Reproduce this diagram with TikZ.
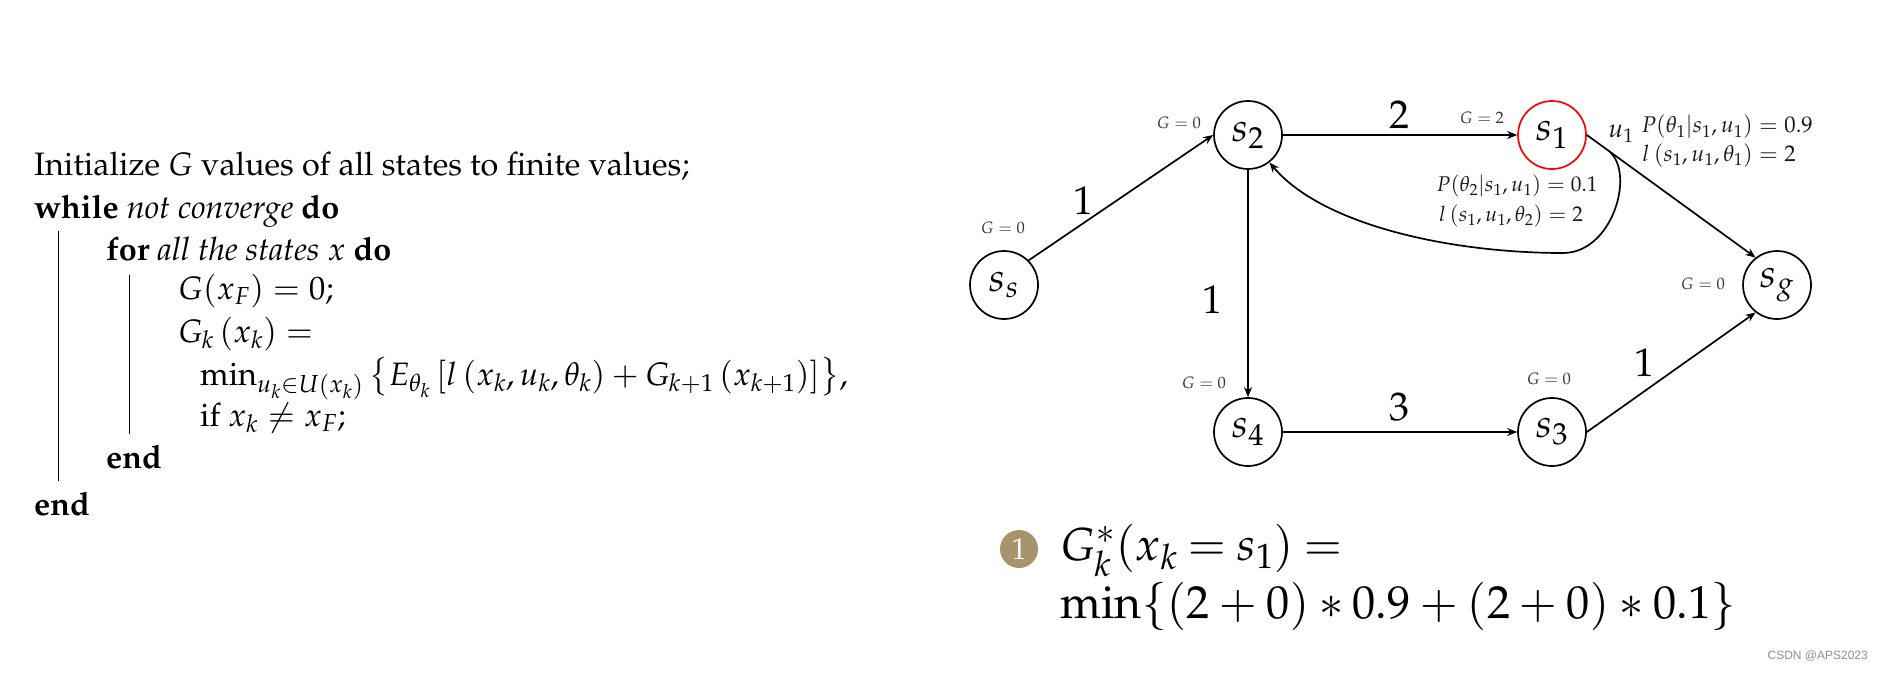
\documentclass[tikz,border=0pt]{standalone}
\usepackage[no-math]{fontspec}
\newfontfamily\wmfont{Liberation Sans}
\usepackage[T1]{fontenc}
\usepackage{amsmath,amssymb}
\usepackage{mathpazo}
\usepackage{tikz}
\usetikzlibrary{arrows.meta}
\definecolor{badge}{HTML}{A8946A}
\tikzset{
  state/.style={circle,draw=black,fill=white,minimum size=68pt,inner sep=0pt,line width=1.7pt,font=\fontsize{40}{44}\selectfont},
  redstate/.style={state,draw=red},
  edge/.style={-{Stealth[length=10pt,width=8pt]},line width=1.7pt},
  gval/.style={font=\fontsize{16.5}{18}\selectfont,text=black!80,inner sep=0pt},
  weight/.style={font=\fontsize{40}{44}\selectfont,inner sep=0pt},
  prob/.style={font=\fontsize{21.3}{25}\selectfont,text=black!90,inner sep=0pt},
  probbig/.style={prob,font=\fontsize{22.7}{27}\selectfont},
  algtext/.style={anchor=base west,inner sep=0pt,font=\fontsize{32.4}{36}\selectfont},
  bigtext/.style={anchor=base west,inner sep=0pt,font=\fontsize{46.3}{50}\selectfont},
  algbar/.style={line width=1pt}
}
\begin{document}
\begin{tikzpicture}[x=1pt,y=-1pt]
  \useasboundingbox (0,0) rectangle (1878,672);
  % algorithm
  \node[algtext] (init) at (34,175) {Initialize $G$ values of all states to finite values;};
  \node[algtext] (while) at (34,218) {\textbf{while} \textit{not converge} \textbf{do}};
  \node[algtext] (for) at (106,260) {\textbf{for} \textit{all the states $x$} \textbf{do}};
  \node[algtext] (gf) at (178,299) {$G(x_F)=0$;};
  \node[algtext] (gk) at (178,342) {$G_k\left(x_k\right)=$};
  \node[algtext] (gmin) at (200,385) {$\min_{u_k\in U\left(x_k\right)}\left\{E_{\theta_k}\left[l\left(x_k,u_k,\theta_k\right)+G_{k+1}\left(x_{k+1}\right)\right]\right\}$,};
  \node[algtext] (gif) at (200,426) {if $x_k\neq x_F$;};
  \node[algtext] (endfor) at (106,468) {\textbf{end}};
  \node[algtext] (endwhile) at (34,515) {\textbf{end}};
  \coordinate (outa) at (58,231);
  \coordinate (outb) at (58,481);
  \coordinate (ina) at (129,275);
  \coordinate (inb) at (129,434);
  \draw[algbar] (outa) -- (outb);
  \draw[algbar] (ina) -- (inb);
  % graph
  \node[state] (ss) at (1004,285) {$s_s$};
  \node[state] (s2) at (1248,135) {$s_2$};
  \node[redstate] (s1) at (1552,135) {$s_1$};
  \node[state] (sg) at (1777,285) {$s_g$};
  \node[state] (s4) at (1248,432) {$s_4$};
  \node[state] (s3) at (1552,432) {$s_3$};
  \draw[edge] (ss.north east) -- (s2.west);
  \draw[edge] (s2) -- (s1);
  \draw[edge] (s2) -- (s4);
  \draw[edge] (s4) -- (s3);
  \draw[edge] (s3.east) -- (sg.232);
  \draw[edge] (s1.east) -- (sg.128);
  \coordinate (u1) at (1610,152);
  \coordinate (bend) at (1563,253);
  \draw[edge] (u1) .. controls (1635,175) and (1612,253) .. (bend) .. controls (1450,253) and (1322,225) .. (s2.308);
  \node[gval] (gss) at (1003,228) {$G=0$};
  \node[gval] (gs2) at (1179,123) {$G=0$};
  \node[gval] (gs1) at (1482,118) {$G=2$};
  \node[gval] (gsg) at (1703,284) {$G=0$};
  \node[gval] (gs4) at (1204,383) {$G=0$};
  \node[gval] (gs3) at (1549,379) {$G=0$};
  \node[weight] (w1) at (1083,201) {1};
  \node[weight] (w2) at (1399,115) {2};
  \node[weight] (w3) at (1212,300) {1};
  \node[weight] (w4) at (1399,407) {3};
  \node[weight] (w5) at (1644,363) {1};
  \node[prob,font=\fontsize{26}{30}\selectfont] (ulab) at (1621,134) {$u_1$};
  \node[probbig] (pa) at (1727,127) {$P(\theta_1|s_1,u_1)=0.9$};
  \node[probbig] (la) at (1719,156) {$l\left(s_1,u_1,\theta_1\right)=2$};
  \node[prob] (pb) at (1517,186) {$P(\theta_2|s_1,u_1)=0.1$};
  \node[prob] (lb) at (1511,216) {$l\left(s_1,u_1,\theta_2\right)=2$};
  % value update
  \node[circle,fill=badge,text=white,minimum size=38pt,inner sep=0pt,font=\fontsize{30}{34}\selectfont] (mark) at (1019,549) {1};
  \node[bigtext] (fa) at (1060,560) {\thickmuskip=4mu $G_k^*(x_k=s_1)=$};
  \node[bigtext] (fb) at (1060,618) {$\min\{(2+0)*0.9+(2+0)*0.1\}$};
  \node[anchor=east,inner sep=0pt,text=black!45,font=\wmfont\fontsize{12}{14}\selectfont] (wm) at (1868,656) {CSDN @APS2023};
\end{tikzpicture}
\end{document}
